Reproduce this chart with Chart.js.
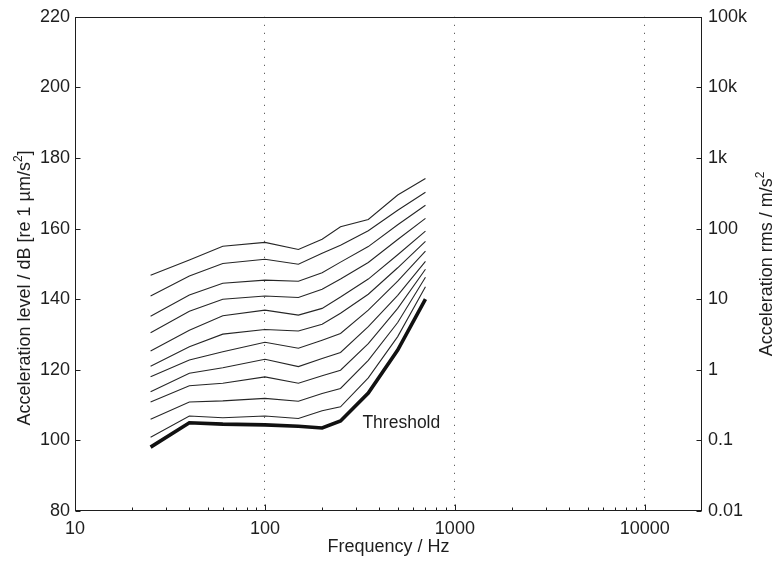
<!DOCTYPE html>
<html><head><meta charset="utf-8">
<script src="https://cdn.jsdelivr.net/npm/chart.js@4.4.1/dist/chart.umd.min.js"></script>
<style>html,body{margin:0;padding:0;background:#fff}#wrap{width:775px;height:565px}</style>
</head><body><div id="wrap"><canvas id="c" width="775" height="565"></canvas></div>
<script>
// ---- data ----
const frequencies = [25, 40, 60, 100, 150, 200, 250, 350, 500, 700];
const contour1  = [146.8, 151.1, 155.0, 156.1, 154.1, 157.0, 160.5, 162.6, 169.5, 174.2];
const contour2  = [140.9, 146.6, 150.1, 151.3, 149.9, 153.0, 155.3, 159.4, 165.2, 170.3];
const contour3  = [135.2, 141.2, 144.5, 145.4, 145.1, 147.5, 150.5, 154.9, 161.1, 166.6];
const contour4  = [130.5, 136.6, 140.0, 140.9, 140.5, 142.8, 145.7, 150.4, 156.9, 162.9];
const contour5  = [125.3, 131.2, 135.3, 136.9, 135.5, 137.4, 140.6, 145.7, 152.6, 159.3];
const contour6  = [121.0, 126.5, 130.1, 131.4, 131.0, 132.9, 136.0, 141.4, 148.9, 156.4];
const contour7  = [118.0, 122.8, 125.1, 127.8, 126.1, 128.4, 130.3, 136.9, 145.1, 153.6];
const contour8  = [113.8, 119.0, 120.6, 123.0, 120.9, 123.2, 124.9, 132.2, 141.1, 150.7];
const contour9  = [110.9, 115.5, 116.2, 118.0, 116.2, 118.3, 119.9, 127.4, 137.4, 148.5];
const contour10 = [106.0, 110.9, 111.2, 111.9, 111.1, 113.3, 114.7, 122.7, 133.4, 146.2];
const contour11 = [100.9, 106.9, 106.4, 106.9, 106.2, 108.4, 109.5, 117.7, 129.4, 143.5];
const threshold = [ 98.1, 105.0, 104.6, 104.4, 104.0, 103.5, 105.5, 113.4, 125.6, 140.0];
const contours = [contour1, contour2, contour3, contour4, contour5, contour6,
                  contour7, contour8, contour9, contour10, contour11];

const xMajorTicks = [10, 100, 1000, 10000];
const xGridLines = [100, 1000, 10000];
const leftTickValues = [80, 100, 120, 140, 160, 180, 200, 220];
const rightTickLabels = ['0.01', '0.1', '1', '10', '100', '1k', '10k', '100k'];
const thresholdText = 'Threshold';
const xTitle = 'Frequency / Hz';
// titles as [text, superscript, trailing text]
const leftTitle = ['Acceleration level / dB [re 1 \u00b5m/s', '2', ']'];
const rightTitle = ['Acceleration rms / m/s', '2', ''];

const FONT = '"Liberation Sans", Arial, Helvetica, sans-serif';
const INK = '#1e1e1e';

function toPoints(arr) { return arr.map((v, i) => ({x: frequencies[i], y: v})); }

const datasets = contours.map(c => ({
  data: toPoints(c), borderColor: '#262626', borderWidth: 1.1,
  pointRadius: 0, tension: 0, fill: false
}));
datasets.push({
  data: toPoints(threshold), borderColor: '#111', borderWidth: 3.6,
  pointRadius: 0, tension: 0, fill: false, borderJoinStyle: 'miter'
});

function drawSupTitle(ctx, parts, cx, cy) {
  const big = '18px ' + FONT, small = '12px ' + FONT;
  ctx.save();
  ctx.translate(cx, cy); ctx.rotate(-Math.PI / 2);
  ctx.textBaseline = 'alphabetic'; ctx.textAlign = 'left';
  ctx.font = big; const w1 = ctx.measureText(parts[0]).width;
  const w3 = ctx.measureText(parts[2]).width;
  ctx.font = small; const w2 = ctx.measureText(parts[1]).width;
  const total = w1 + w2 + w3;
  let x = -total / 2; const base = 6;
  ctx.font = big; ctx.fillText(parts[0], x, base); x += w1;
  ctx.font = small; ctx.fillText(parts[1], x, base - 8); x += w2;
  ctx.font = big; ctx.fillText(parts[2], x, base);
  ctx.restore();
}

const framePlugin = {
  id: 'frame',
  afterDraw(chart) {
    const ctx = chart.ctx;
    const a = chart.chartArea;
    const xs = chart.scales.x, ys = chart.scales.y;
    const L = Math.round(a.left) + 0.5, R = Math.round(a.right) - 0.5;
    const T = Math.round(a.top) + 0.5, B = Math.round(a.bottom) - 0.5;
    ctx.save();
    ctx.strokeStyle = INK; ctx.lineWidth = 1;
    ctx.strokeRect(L, T, R - L, B - T);
    ctx.beginPath();
    for (const d of xMajorTicks) {
      for (let m = 1; m <= 9; m++) {
        const v = m * d;
        if (v >= 20000) continue;
        const px = Math.round(xs.getPixelForValue(v)) + 0.5;
        const len = m === 1 ? 6 : 3;
        ctx.moveTo(px, B); ctx.lineTo(px, B - len);
      }
    }
    for (const v of leftTickValues) {
      const py = Math.round(ys.getPixelForValue(v)) + 0.5;
      ctx.moveTo(L, py); ctx.lineTo(L + 5, py);
      ctx.moveTo(R, py); ctx.lineTo(R - 5, py);
    }
    ctx.stroke();

    ctx.fillStyle = INK;
    ctx.font = '17.5px ' + FONT;
    ctx.textAlign = 'left'; ctx.textBaseline = 'middle';
    ctx.fillText(thresholdText, xs.getPixelForValue(326), ys.getPixelForValue(105));
    ctx.font = '18px ' + FONT;
    ctx.textAlign = 'center'; ctx.textBaseline = 'middle';
    ctx.fillText(xTitle, (a.left + a.right) / 2, 547);
    drawSupTitle(ctx, leftTitle, 24, 288);
    drawSupTitle(ctx, rightTitle, 766, (a.top + a.bottom) / 2);
    ctx.restore();
  }
};

new Chart(document.getElementById('c'), {
  type: 'line',
  data: { datasets },
  plugins: [framePlugin],
  options: {
    responsive: false, animation: false,
    layout: { padding: { top: 16, left: 0, right: 0, bottom: 0 } },
    plugins: { legend: { display: false }, tooltip: { enabled: false } },
    scales: {
      x: {
        type: 'logarithmic', min: 10, max: 20000, position: 'bottom',
        afterFit(s) { s.height = 54; },
        border: { display: false, dash: [1, 7] },
        grid: {
          drawTicks: false, lineWidth: 1,
          color: c => (c.tick && xGridLines.includes(c.tick.value)) ? '#3a3a3a' : 'rgba(0,0,0,0)'
        },
        ticks: {
          autoSkip: false, maxRotation: 0, minRotation: 0, padding: 7,
          color: INK, font: { family: FONT, size: 18 },
          callback: v => xMajorTicks.includes(v) ? String(v) : ''
        }
      },
      y: {
        type: 'linear', position: 'left', min: 80, max: 220,
        afterFit(s) { s.width = 75; },
        border: { display: false },
        grid: { display: false, drawTicks: false },
        ticks: {
          stepSize: 20, autoSkip: false, padding: 5, color: INK,
          font: { family: FONT, size: 18 }
        }
      },
      y2: {
        type: 'linear', position: 'right', min: 80, max: 220,
        afterFit(s) { s.width = 73; },
        border: { display: false },
        grid: { display: false, drawTicks: false },
        ticks: {
          stepSize: 20, autoSkip: false, padding: 6, color: INK,
          font: { family: FONT, size: 18 },
          callback: v => rightTickLabels[leftTickValues.indexOf(v)]
        }
      }
    }
  }
});
</script></body></html>
